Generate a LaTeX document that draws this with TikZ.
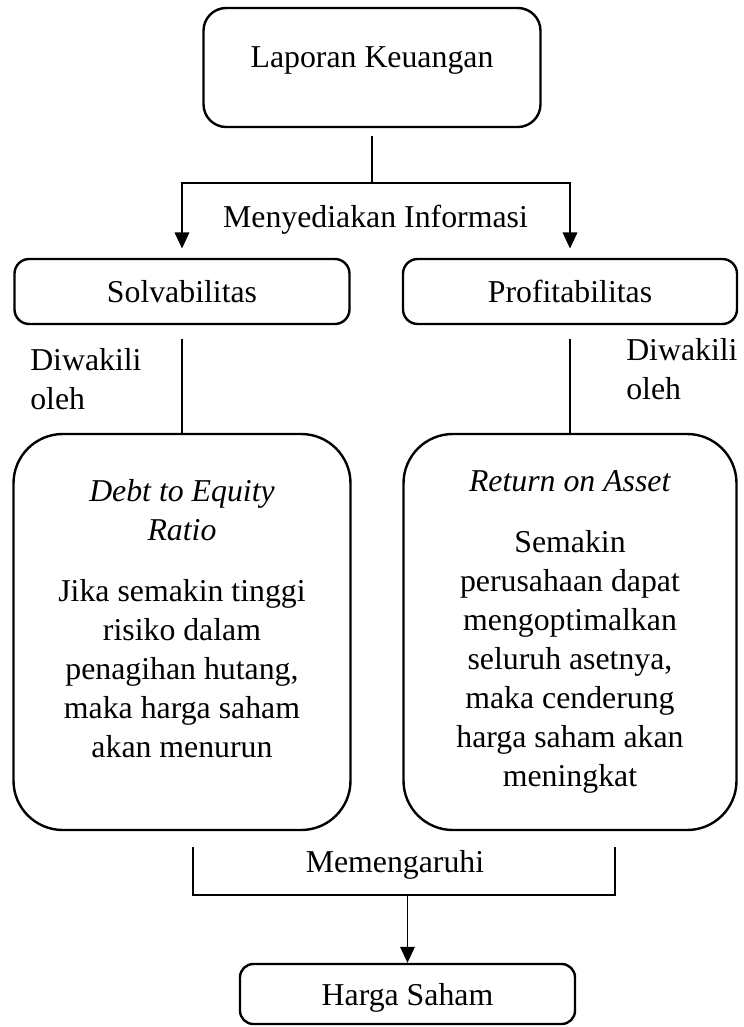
\documentclass[tikz,border=0pt]{standalone}
\usepackage{fontspec}
\setmainfont{Liberation Serif}
\usepackage{tikz}
\usetikzlibrary{arrows.meta,positioning}

\begin{document}
\begin{tikzpicture}[x=0.75pt, y=-0.75pt,
    every node/.style={font=\fontsize{23.85}{29.25}\selectfont},
    box/.style={draw, line width=1.8pt, align=center},
    smallbox/.style={box, rounded corners=11pt, minimum height=48.75pt},
    bigbox/.style={box, rounded corners=37pt, minimum height=297pt},
    lbl/.style={align=left, inner sep=0pt},
    conn/.style={line width=0.8pt},
    arr/.style={conn, -{Triangle[length=12pt,width=11pt]}}]
    \useasboundingbox (0,0) rectangle (743,1027);

    % Top box
    \node[box, rounded corners=17pt, minimum width=252.75pt, minimum height=89.25pt, text depth=16pt] (lap) at (372,67.5) {Laporan Keuangan};

    % Ratio groups
    \node[smallbox, minimum width=251.25pt] (solv) at (182,291.5) {Solvabilitas};
    \node[smallbox, minimum width=250.5pt] (prof) at (570,291.5) {Profitabilitas};

    % Ratio details
    \node[bigbox, minimum width=252.75pt, text depth=20pt] (der) at (182,632) {\textit{Debt to Equity}\\\textit{Ratio}\\[16.5pt]Jika semakin tinggi\\risiko dalam\\penagihan hutang,\\maka harga saham\\akan menurun};
    \node[bigbox, minimum width=249.75pt] (roa) at (570,632) {\textit{Return on Asset}\\[16.5pt]Semakin\\perusahaan dapat\\mengoptimalkan\\seluruh asetnya,\\maka cenderung\\harga saham akan\\meningkat};

    % Result
    \node[smallbox, rounded corners=10pt, minimum width=251.25pt, minimum height=45pt, text depth=0pt] (hs) at (407.5,994) {Harga Saham};

    % Connector labels
    \node[anchor=base] (info) at (375.5,227) {Menyediakan Informasi};
    \node[lbl, anchor=north west] (dwl) at (30,348) {Diwakili\\oleh};
    \node[lbl, anchor=north west] (dwr) at (626,338) {Diwakili\\oleh};
    \node[anchor=base] (pgr) at (395,872) {Memengaruhi};

    % Connectors
    \coordinate (cab) at (372,183);
    \draw[conn, shorten <=6pt] (lap.south) -- (cab);
    \draw[arr, shorten >=7pt] (cab) -| (solv.north);
    \draw[arr, shorten >=7pt] (cab) -| (prof.north);
    \draw[conn, shorten <=10pt] (solv.south) -- (der.north);
    \draw[conn, shorten <=10pt] (prof.south) -- (roa.north);

    % Bracket to result
    \coordinate (kl) at (193,847);
    \coordinate (kr) at (615,847);
    \coordinate (kj) at (407.5,895);
    \draw[conn] (kl) |- (kj) -| (kr);
    \draw[arr] (kj) -- (hs.north);
\end{tikzpicture}
\end{document}
